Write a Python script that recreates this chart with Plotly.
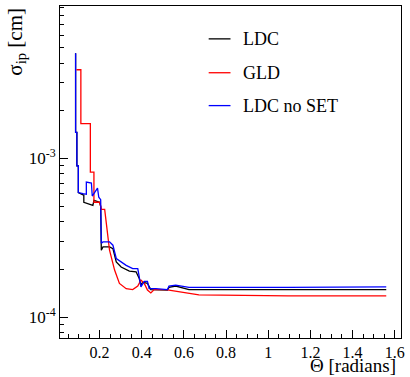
import plotly.graph_objects as go

# Impact-parameter resolution versus polar angle for three detector layouts
theta_ldc = [0.086, 0.086, 0.092, 0.092, 0.099, 0.099, 0.121, 0.125, 0.125, 0.168, 0.173,
             0.200, 0.205, 0.208, 0.216, 0.247, 0.263, 0.279, 0.302, 0.341, 0.373, 0.388,
             0.396, 0.404, 0.427, 0.443, 0.522, 0.529, 0.561, 0.624, 1.094, 1.560]
sigma_ldc = [4.62e-3, 1.46e-3, 1.46e-3, 9.0e-4, 9.0e-4, 6.1e-4, 5.9e-4, 5.9e-4, 5.3e-4, 5.06e-4, 5.45e-4,
             5.3e-4, 5.0e-4, 2.64e-4, 2.77e-4, 2.77e-4, 2.70e-4, 2.23e-4, 2.07e-4, 1.95e-4, 1.93e-4, 1.75e-4,
             1.59e-4, 1.66e-4, 1.63e-4, 1.49e-4, 1.48e-4, 1.54e-4, 1.57e-4, 1.49e-4, 1.49e-4, 1.49e-4]

theta_gld = [0.090, 0.111, 0.111, 0.156, 0.156, 0.173, 0.173, 0.200, 0.209, 0.224, 0.247,
             0.271, 0.294, 0.326, 0.357, 0.381, 0.396, 0.412, 0.427, 0.443, 0.459, 0.514,
             0.671, 1.094, 1.560]
sigma_gld = [3.63e-3, 3.63e-3, 1.66e-3, 1.66e-3, 8.2e-4, 8.2e-4, 5.3e-4, 5.3e-4, 4.78e-4, 4.78e-4, 2.64e-4,
             1.98e-4, 1.63e-4, 1.51e-4, 1.49e-4, 1.57e-4, 1.71e-4, 1.63e-4, 1.48e-4, 1.42e-4, 1.49e-4, 1.49e-4,
             1.38e-4, 1.36e-4, 1.36e-4]

theta_noset = [0.086, 0.086, 0.092, 0.092, 0.099, 0.099, 0.121, 0.137, 0.137, 0.161, 0.165,
               0.176, 0.190, 0.196, 0.205, 0.208, 0.216, 0.247, 0.263, 0.279, 0.302, 0.326,
               0.357, 0.381, 0.388, 0.396, 0.412, 0.427, 0.435, 0.467, 0.522, 0.529, 0.561,
               0.624, 1.094, 1.560]
sigma_noset = [4.62e-3, 1.46e-3, 1.46e-3, 9.0e-4, 9.0e-4, 6.1e-4, 6.0e-4, 5.95e-4, 7.1e-4, 7.0e-4, 5.8e-4,
               6.1e-4, 6.5e-4, 5.7e-4, 5.5e-4, 2.92e-4, 2.98e-4, 2.98e-4, 2.84e-4, 2.34e-4, 2.23e-4, 2.12e-4,
               2.02e-4, 2.02e-4, 1.79e-4, 1.55e-4, 1.68e-4, 1.68e-4, 1.51e-4, 1.51e-4, 1.49e-4, 1.57e-4, 1.59e-4,
               1.54e-4, 1.54e-4, 1.55e-4]

series_names = ["LDC", "GLD", "LDC no SET"]
series_colors = ["#000000", "#ff0000", "#0000ff"]

y_major = [1e-4, 1e-3]
y_major_text = ["10<sup>-4</sup>", "10<sup>-3</sup>"]
y_minor = [8e-5, 9e-5] + [k * 1e-4 for k in range(2, 10)] + [k * 1e-3 for k in range(2, 10)]

FONT = "'Liberation Serif', 'Times New Roman', Tinos, serif"

fig = go.Figure()
data = [(theta_ldc, sigma_ldc), (theta_gld, sigma_gld), (theta_noset, sigma_noset)]
for (tx, sy), name, col in zip(data, series_names, series_colors):
    fig.add_trace(go.Scatter(x=tx, y=sy, mode="lines", name=name,
                             line=dict(color=col, width=1.3), showlegend=False))

# Legend drawn by hand, without a frame
leg_y = [0.901, 0.799, 0.700]
for name, col, ly in zip(series_names, series_colors, leg_y):
    fig.add_shape(type="line", xref="paper", yref="paper", x0=0.436, x1=0.500, y0=ly, y1=ly,
                  line=dict(color=col, width=1.3))
    fig.add_annotation(xref="paper", yref="paper", x=0.532, y=ly, text=name, showarrow=False,
                       xanchor="left", yanchor="middle", font=dict(family=FONT, size=18, color="black"))

fig.add_annotation(xref="paper", yref="paper", x=0.99, y=-0.083, text="Θ [radians]", showarrow=False,
                   xanchor="right", yanchor="middle", font=dict(family=FONT, size=19, color="black"))
fig.add_annotation(xref="paper", yref="paper", x=-0.13, y=1.0, text="σ<sub>ip</sub> [cm]",
                   showarrow=False, textangle=-90, xanchor="center", yanchor="top",
                   font=dict(family=FONT, size=21, color="black"))

fig.update_layout(
    width=410, height=377,
    margin=dict(l=60, r=6, t=5, b=39),
    paper_bgcolor="white", plot_bgcolor="white",
    font=dict(family=FONT, size=16, color="black"),
    xaxis=dict(range=[0.012, 1.63], showgrid=False, zeroline=False,
               showline=True, mirror=True, linecolor="black", linewidth=1,
               ticks="inside", ticklen=8, tickcolor="black", tick0=0, dtick=0.2,
               minor=dict(ticks="inside", ticklen=4, tickcolor="black", dtick=0.05, showgrid=False),
               tickfont=dict(family=FONT, size=16)),
    yaxis=dict(type="log", range=[-4.132, -2.038], showgrid=False, zeroline=False,
               showline=True, mirror=True, linecolor="black", linewidth=1,
               ticks="inside", ticklen=8, tickcolor="black",
               tickmode="array", tickvals=y_major, ticktext=y_major_text,
               minor=dict(ticks="inside", ticklen=4, tickcolor="black",
                          tickmode="array", tickvals=y_minor, showgrid=False),
               tickfont=dict(family=FONT, size=17)),
)

fig.write_html("out.html")
